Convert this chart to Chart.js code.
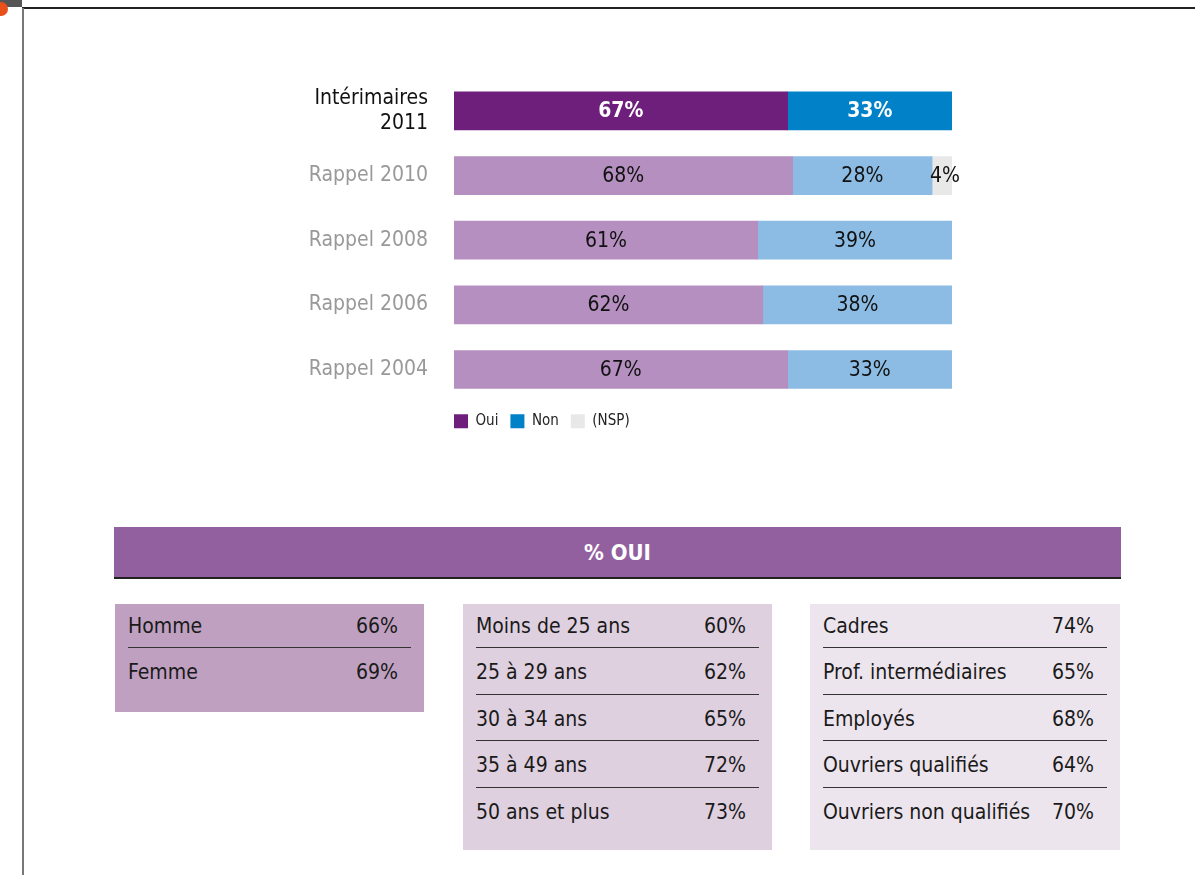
<!DOCTYPE html>
<html lang="fr">
<head>
<meta charset="utf-8">
<script src="https://cdn.jsdelivr.net/npm/chart.js@4/dist/chart.umd.min.js"></script>
<style>
  body { margin: 0; background: #fff; width: 1195px; height: 875px; overflow: hidden; position: relative;
         font-family: "Liberation Sans Narrow", "DejaVu Sans Condensed", "Roboto", sans-serif; }
  .frameTop { position: absolute; left: 22px; top: 7px; width: 1173px; height: 2px; background: #222; }
  .frameLeft { position: absolute; left: 22px; top: 8px; width: 2px; height: 867px; background: #777; }
  .corner { position: absolute; left: 0; top: 0; width: 22px; height: 7px; background: #555; }
  .dot { position: absolute; left: -6px; top: 2px; width: 14px; height: 14px; border-radius: 50%; background: #e8501a; }
  #chartBox { position: absolute; left: 100px; top: 40px; width: 900px; height: 413px; }
  .header { position: absolute; left: 114px; top: 527px; width: 1007px; height: 50px; background: #93609f;
            border-bottom: 2px solid #222; color: #fff; font-weight: bold; font-size: 22px; text-align: center; line-height: 52px; }
  .panel { position: absolute; top: 604px; padding: 0 13px; box-sizing: border-box; }
  .rows { margin-top: -2.5px; }
  .row { display: flex; justify-content: space-between; box-sizing: border-box; height: 46.5px; padding-top: 3px;
         line-height: 42.5px; font-size: 21px; color: #1a1a1a; border-bottom: 1px solid #333; }
  .row:last-child { border-bottom: none; }
  .row span:last-child { padding-right: 13px; }
</style>
</head>
<body>
<div class="frameTop"></div>
<div class="frameLeft"></div>
<div class="corner"></div>
<div class="dot"></div>
<div id="chartBox"><canvas id="barChart"></canvas></div>
<div class="header">% OUI</div>
<div class="panel" style="left:115px;width:309px;height:108px;background:#bfa0c0;"><div class="rows" id="p1"></div></div>
<div class="panel" style="left:463px;width:309px;height:246px;background:#dfd0e0;"><div class="rows" id="p2"></div></div>
<div class="panel" style="left:810px;width:310px;height:246px;background:#ede5ed;"><div class="rows" id="p3"></div></div>
<script>
const categories = [["Intérimaires", "2011"], "Rappel 2010", "Rappel 2008", "Rappel 2006", "Rappel 2004"];
const ouiValues = [67, 68, 61, 62, 67];
const nonValues = [33, 28, 39, 38, 33];
const nspValues = [0, 4, 0, 0, 0];

const genderLabels = ["Homme", "Femme"];
const genderValues = [66, 69];
const ageLabels = ["Moins de 25 ans", "25 à 29 ans", "30 à 34 ans", "35 à 49 ans", "50 ans et plus"];
const ageValues = [60, 62, 65, 72, 73];
const csLabels = ["Cadres", "Prof. intermédiaires", "Employés", "Ouvriers qualifiés", "Ouvriers non qualifiés"];
const csValues = [74, 65, 68, 64, 70];

const FONT = "'Liberation Sans Narrow', 'DejaVu Sans Condensed', Roboto, sans-serif";

function fillPanel(id, labels, values) {
    const panel = document.getElementById(id);
    labels.forEach((label, i) => {
        const row = document.createElement("div");
        row.className = "row";
        row.innerHTML = `<span>${label}</span><span>${values[i]}%</span>`;
        panel.appendChild(row);
    });
}
fillPanel("p1", genderLabels, genderValues);
fillPanel("p2", ageLabels, ageValues);
fillPanel("p3", csLabels, csValues);

// values written in the middle of each segment
const barLabels = {
    id: "barLabels",
    afterLayout(chart) {
        // legend starts flush with the bars
        chart.legend.left -= 12;
        chart.legend.right -= 12;
    },
    afterDatasetsDraw(chart) {
        const ctx = chart.ctx;
        ctx.save();
        ctx.textAlign = "center";
        ctx.textBaseline = "middle";
        chart.data.datasets.forEach((ds, di) => {
            chart.getDatasetMeta(di).data.forEach((bar, i) => {
                const v = ds.data[i];
                if (!v) return;
                const first = i === 0;
                ctx.font = (first ? "bold " : "") + "21px " + FONT;
                ctx.fillStyle = first ? "#fff" : "#111";
                ctx.fillText(v + "%", (bar.x + bar.base) / 2 + (di === 2 ? 3 : 0), bar.y + 1);
            });
        });
        ctx.restore();
    }
};

new Chart(document.getElementById("barChart"), {
    type: "bar",
    data: {
        labels: categories,
        datasets: [
            { label: "Oui", data: ouiValues, backgroundColor: ["#6e1f7c", "#b48fbf", "#b48fbf", "#b48fbf", "#b48fbf"] },
            { label: "Non", data: nonValues, backgroundColor: ["#0081c8", "#8cbce3", "#8cbce3", "#8cbce3", "#8cbce3"] },
            { label: "(NSP)", data: nspValues, backgroundColor: ["#e8e8e8", "#e8e8e8", "#e8e8e8", "#e8e8e8", "#e8e8e8"] }
        ]
    },
    options: {
        indexAxis: "y",
        responsive: true,
        maintainAspectRatio: false,
        animation: false,
        barThickness: 38,
        layout: { autoPadding: false, padding: { top: 18, right: 48, bottom: 0, left: 0 } },
        scales: {
            x: { stacked: true, min: 0, max: 100, display: false },
            y: {
                stacked: true,
                grid: { display: false, drawTicks: false },
                border: { display: false },
                afterFit: (scale) => { scale.width = 354; },
                ticks: {
                    padding: 26,
                    font: { family: FONT, size: 21 },
                    color: (c) => c.index === 0 ? "#111" : "#999"
                }
            }
        },
        plugins: {
            tooltip: { enabled: false },
            legend: {
                position: "bottom",
                align: "start",
                fullSize: false,
                labels: {
                    boxWidth: 14,
                    boxHeight: 14,
                    padding: 12,
                    color: "#222",
                    font: { family: FONT, size: 15 }
                }
            }
        }
    },
    plugins: [barLabels]
});
</script>
</body>
</html>
